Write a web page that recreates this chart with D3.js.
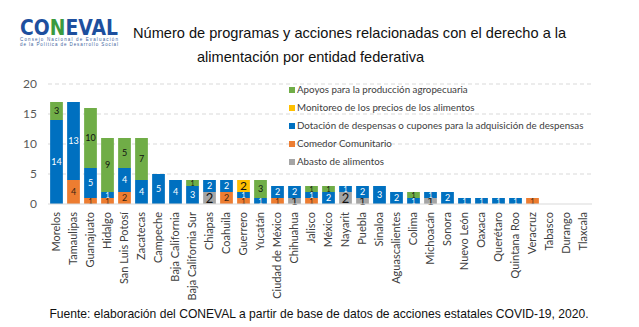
<!DOCTYPE html>
<html>
<head>
<meta charset="utf-8">
<script src="https://cdn.jsdelivr.net/npm/d3@7"></script>
<style>
  body { margin: 0; background: #fff; }
  svg { display: block; }
</style>
</head>
<body>
<div class="chart"></div>
<script>
// states in display order
var states = ["Morelos", "Tamaulipas", "Guanajuato", "Hidalgo", "San Luis Potosí", "Zacatecas",
    "Campeche", "Baja California", "Baja California Sur", "Chiapas", "Coahuila", "Guerrero",
    "Yucatán", "Ciudad de México", "Chihuahua", "Jalisco", "México", "Nayarit", "Puebla",
    "Sinaloa", "Aguascalientes", "Colima", "Michoacán", "Sonora", "Nuevo León", "Oaxaca",
    "Querétaro", "Quintana Roo", "Veracruz", "Tabasco", "Durango", "Tlaxcala"];

// number of programs per type (same order as states)
var abasto     = [0, 0, 0, 0, 0, 0, 0, 0, 0, 2, 0, 0, 0, 0, 1, 0, 0, 2, 1, 0, 0, 0, 1, 0, 0, 0, 0, 0, 0, 0, 0, 0];
var comedor    = [0, 4, 1, 1, 2, 0, 0, 0, 0, 0, 2, 1, 0, 1, 0, 1, 0, 0, 0, 0, 0, 0, 0, 0, 0, 0, 0, 0, 1, 0, 0, 0];
var dotacion   = [14, 13, 5, 1, 4, 4, 5, 4, 3, 2, 2, 1, 1, 2, 2, 1, 2, 1, 2, 3, 2, 1, 1, 2, 1, 1, 1, 1, 0, 0, 0, 0];
var monitoreo  = [0, 0, 0, 0, 0, 0, 0, 0, 0, 0, 0, 2, 0, 0, 0, 0, 0, 0, 0, 0, 0, 0, 0, 0, 0, 0, 0, 0, 0, 0, 0, 0];
var apoyos     = [3, 0, 10, 9, 5, 7, 0, 0, 1, 0, 0, 0, 3, 0, 0, 1, 1, 0, 0, 0, 0, 1, 0, 0, 0, 0, 0, 0, 0, 0, 0, 0];

var yTicks = [0, 5, 10, 15, 20];

// stacking order, bottom to top
var series = [
    { key: "abasto", name: "Abasto de alimentos", values: abasto, color: "#A5A5A5", label: "#111", size: 13 },
    { key: "comedor", name: "Comedor Comunitario", values: comedor, color: "#ED7D31", label: "#3a2412", size: 9 },
    { key: "dotacion", name: "Dotación de despensas o cupones para la adquisición de despensas", values: dotacion, color: "#0070C0", label: "#fff", size: 9 },
    { key: "monitoreo", name: "Monitoreo de los precios de los alimentos", values: monitoreo, color: "#FFC000", label: "#111", size: 12 },
    { key: "apoyos", name: "Apoyos para la producción agropecuaria", values: apoyos, color: "#70AD47", label: "#111", size: 9 }
];

var table = states.map(function (s, i) {
    var row = { state: s };
    series.forEach(function (d) { row[d.key] = d.values[i]; });
    return row;
});

var width = 639, height = 327;
var svg = d3.select(".chart").append("svg")
    .attr("width", width)
    .attr("height", height);

// logo
var logo = svg.append("g").attr("transform", "translate(20,0)");
logo.append("text")
    .attr("x", 0).attr("y", 35)
    .attr("font-family", "DejaVu Sans, sans-serif")
    .attr("font-weight", "bold")
    .attr("font-size", 21)
    .attr("textLength", 98)
    .attr("lengthAdjust", "spacingAndGlyphs")
    .selectAll("tspan")
    .data(["C", "O", "N", "E", "V", "A", "L"])
    .join("tspan")
    .attr("fill", d => d == "N" ? "#3b9a3f" : "#1d4f9e")
    .text(d => d);
logo.append("text")
    .attr("x", 0).attr("y", 41)
    .attr("font-family", "Liberation Sans, sans-serif")
    .attr("font-size", 4.5)
    .attr("fill", "#3d5f9e")
    .attr("textLength", 98)
    .text("Consejo Nacional de Evaluación");
logo.append("text")
    .attr("x", 0).attr("y", 46)
    .attr("font-family", "Liberation Sans, sans-serif")
    .attr("font-size", 4.5)
    .attr("fill", "#3d5f9e")
    .attr("textLength", 98)
    .text("de la Política de Desarrollo Social");

// title
var title = svg.append("g")
    .attr("font-family", "Liberation Sans, Arial, sans-serif")
    .attr("font-size", 14.6)
    .attr("fill", "#111");
title.append("text").attr("x", 133).attr("y", 38)
    .text("Número de programas y acciones relacionadas con el derecho a la");
title.append("text").attr("x", 197).attr("y", 62)
    .text("alimentación por entidad federativa");

// scales
var x = d3.scaleBand()
    .domain(states)
    .range([48, 592])
    .paddingInner(0.25)
    .paddingOuter(0.125);

var y = d3.scaleLinear()
    .domain([0, 20])
    .range([204, 84]);

// gridlines
svg.append("g")
    .selectAll("line")
    .data(yTicks.filter(d => d > 0))
    .join("line")
    .attr("x1", 48).attr("x2", 592)
    .attr("y1", d => y(d)).attr("y2", d => y(d))
    .attr("stroke", "#D9D9D9")
    .attr("stroke-dasharray", "4,3");

// y axis labels
svg.append("g")
    .attr("font-family", "Lato, sans-serif")
    .attr("font-size", 12)
    .attr("fill", "#595959")
    .attr("text-anchor", "end")
    .selectAll("text")
    .data(yTicks)
    .join("text")
    .attr("x", 37)
    .attr("y", d => y(d))
    .attr("dy", "0.35em")
    .text(d => d);

// stacked bars
var stack = d3.stack().keys(series.map(d => d.key));
var stacked = stack(table);

var layers = svg.append("g")
    .selectAll("g")
    .data(stacked)
    .join("g")
    .attr("fill", (d, i) => series[i].color);

layers.selectAll("rect")
    .data(d => d.filter(p => p[1] > p[0]))
    .join("rect")
    .attr("x", d => x(d.data.state))
    .attr("width", x.bandwidth())
    .attr("y", d => y(d[1]))
    .attr("height", d => y(d[0]) - y(d[1]));

// segment labels; one-unit segments get a smaller font
layers.each(function (layer, i) {
    var s = series[i];
    d3.select(this).selectAll("text")
        .data(layer.filter(p => p[1] > p[0]))
        .join("text")
        .attr("x", d => x(d.data.state) + x.bandwidth() / 2)
        .attr("y", d => (y(d[0]) + y(d[1])) / 2)
        .attr("dy", "0.36em")
        .attr("text-anchor", "middle")
        .attr("font-family", "Lato, sans-serif")
        .attr("font-size", d => (d[1] - d[0]) == 1 ? (s.size < 12 ? 7 : 11) : s.size)
        .attr("fill", s.label)
        .text(d => d[1] - d[0]);
});

// baseline
svg.append("line")
    .attr("x1", 48).attr("x2", 592)
    .attr("y1", y(0)).attr("y2", y(0))
    .attr("stroke", "#D9D9D9");

// x axis labels
svg.append("g")
    .attr("font-family", "Lato, sans-serif")
    .attr("font-size", 11)
    .attr("fill", "#404040")
    .selectAll("text")
    .data(states)
    .join("text")
    .attr("transform", d => `translate(${x(d) + x.bandwidth() / 2},212) rotate(-90)`)
    .attr("text-anchor", "end")
    .attr("dy", "0.35em")
    .text(d => d);

// legend, top item first
var legend = svg.append("g")
    .attr("font-family", "Lato, sans-serif")
    .attr("font-size", 9.75)
    .attr("fill", "#404040")
    .selectAll("g")
    .data(series.slice().reverse())
    .join("g")
    .attr("transform", (d, i) => `translate(289,${90 + i * 18})`);

legend.append("rect")
    .attr("y", -3).attr("width", 6).attr("height", 6)
    .attr("fill", d => d.color);
legend.append("text")
    .attr("x", 8)
    .attr("dy", "0.35em")
    .text(d => d.name);

// source note
svg.append("text")
    .attr("x", 319).attr("y", 318)
    .attr("text-anchor", "middle")
    .attr("font-family", "Liberation Sans, Arial, sans-serif")
    .attr("font-size", 12.1)
    .attr("fill", "#111")
    .text("Fuente: elaboración del CONEVAL a partir de base de datos de acciones estatales COVID-19, 2020.");
</script>
</body>
</html>
